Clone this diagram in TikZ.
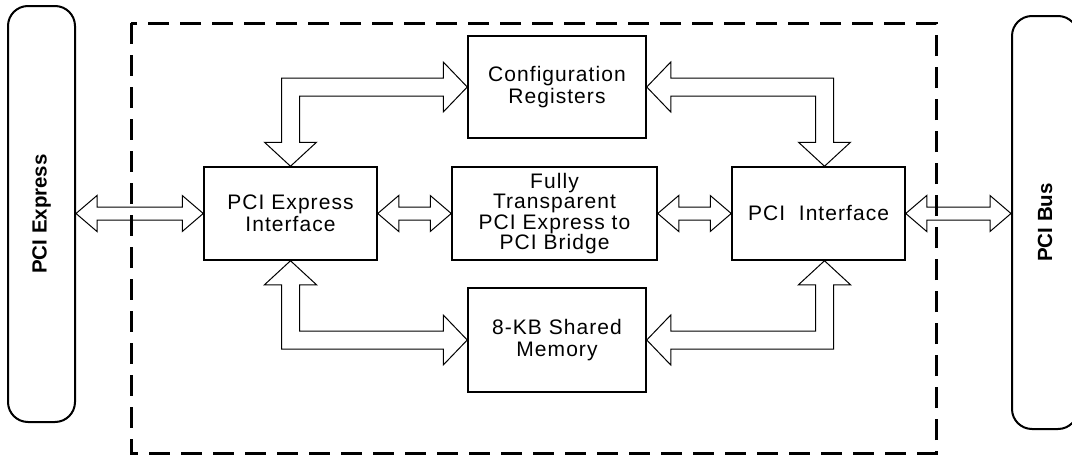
\documentclass[tikz,border=0pt]{standalone}
\usepackage{fontspec}
\setmainfont{Liberation Sans}
\newfontfamily\boxfont{Liberation Sans}[LetterSpace=5]
\usetikzlibrary{calc}
\newcommand\HArrow[2]{%
  \draw[hollow] (#1) -- ($(#1)+(21,-18)$) -- ($(#1)+(21,-6.5)$) -- ($(#2)+(-21,-6.5)$)
   -- ($(#2)+(-21,-18)$) -- (#2) -- ($(#2)+(-21,18)$) -- ($(#2)+(-21,6.5)$)
   -- ($(#1)+(21,6.5)$) -- ($(#1)+(21,18)$) -- cycle;}
% #1 tip on horizontal leg, #2 tip on vertical leg, #3 dx, #4 dy
\newcommand\ElbowArrow[4]{%
  \coordinate (ec) at (#1 -| #2);
  \draw[hollow] (#1)
   -- ($(#1)+({-(#3)*24},{-(#4)*25})$)
   -- ($(#1)+({-(#3)*24},{-(#4)*9})$)
   -- ($(ec)+({-(#3)*9},{-(#4)*9})$)
   -- ($(#2)+({-(#3)*9},{-(#4)*24})$)
   -- ($(#2)+({-(#3)*26},{-(#4)*24})$)
   -- (#2)
   -- ($(#2)+({(#3)*26},{-(#4)*24})$)
   -- ($(#2)+({(#3)*9},{-(#4)*24})$)
   -- ($(ec)+({(#3)*9},{(#4)*9})$)
   -- ($(#1)+({-(#3)*24},{(#4)*9})$)
   -- ($(#1)+({-(#3)*24},{(#4)*25})$)
   -- cycle;}
\begin{document}
\begin{tikzpicture}[x=1pt,y=-1pt,
  block/.style={draw,line width=1.5pt,inner sep=0pt,align=center,
    font={\boxfont\fontsize{21}{22.5}\selectfont}},
  bus/.style={draw,line width=2pt,rounded corners=20pt,inner sep=0pt,
    font={\bfseries\fontsize{20.5}{22}\selectfont}},
  hollow/.style={draw,line width=1pt,line join=miter},
  frame/.style={draw,line width=3pt,dash pattern=on 21pt off 11pt}]
\useasboundingbox (0,0) rectangle (1072,455);
\node[bus,minimum width=67pt,minimum height=416pt] (lbus) at (41.5,214) {};
\node[rotate=90,font={\bfseries\fontsize{20.5}{22}\selectfont}] (lbl) at (lbus.center) {PCI Express};
\node[bus,minimum width=66pt,minimum height=413pt] (rbus) at (1045,222.5) {};
\node[rotate=90,font={\bfseries\fontsize{20.5}{22}\selectfont}] (rbl) at (rbus.center) {PCI Bus};
\node[block,minimum width=178pt,minimum height=102pt] (cfg) at (557,87) {Configuration\\Registers};
\node[block,minimum width=173pt,minimum height=93pt] (pcie) at (290.5,213.5) {PCI Express\\Interface};
\node[block,minimum width=205pt,minimum height=93pt,
  font={\boxfont\fontsize{21}{20.5}\selectfont}] (bridge) at (554.5,213.5)
  {Fully\\Transparent\\PCI Express to\\PCI Bridge};
\node[block,minimum width=173pt,minimum height=93pt] (pcii) at (818.5,213.5) {PCI\ \ Interface};
\node[block,minimum width=178pt,minimum height=104pt] (mem) at (557,340) {8-KB Shared\\Memory};
\coordinate (a1) at (pcie.west -| lbus.east);
\coordinate (a4) at (pcii.east -| rbus.west);
\HArrow{a1}{pcie.west}
\HArrow{pcie.east}{bridge.west}
\HArrow{bridge.east}{pcii.west}
\HArrow{pcii.east}{a4}
\coordinate (pin) at ($(pcii.north)+(6,0)$);
\coordinate (pis) at ($(pcii.south)+(6,0)$);
\ElbowArrow{cfg.west}{pcie.north}{1}{1}
\ElbowArrow{cfg.east}{pin}{-1}{1}
\ElbowArrow{mem.west}{pcie.south}{1}{-1}
\ElbowArrow{mem.east}{pis}{-1}{-1}
\coordinate (f1) at (131,23);
\coordinate (f2) at (936,453);
\draw[frame] (f1) rectangle (f2);
\end{tikzpicture}
\end{document}
